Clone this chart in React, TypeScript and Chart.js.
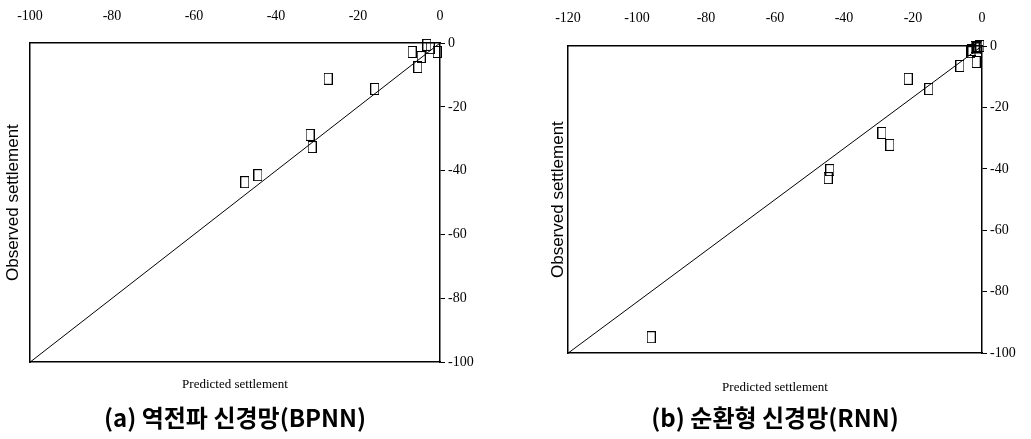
import React, { useEffect, useRef } from "react";
import { Chart, registerables } from "chart.js";

Chart.register(...registerables);
Chart.defaults.color = "#000";

// ---- data ----
const predictedA = [-3.2, -6.8, -4.6, -5.4, -2.4, -0.7, -27.3, -15.9, -31.7, -31.2, -47.6, -44.4];
const observedA = [-0.6, -2.8, -4.4, -7.5, -1.6, -2.8, -11.2, -14.4, -28.8, -32.6, -43.6, -41.4];

const predictedB = [-2.0, -1.2, -2.9, -3.2, -0.6, -1.5, -1.7, -6.4, -21.4, -15.4, -29.0, -26.7, -44.1, -44.6, -95.9];
const observedB = [-0.3, -0.3, -1.3, -2.0, 0.0, -0.8, -5.2, -6.5, -10.7, -14.0, -28.3, -32.2, -40.4, -43.0, -94.8];

const xRangeA = [-100, 0];
const xRangeB = [-120, 0];
const yRange = [-100, 0];
const tickStep = 20;

const captionA = "(a) 역전파 신경망(BPNN)";
const captionB = "(b) 순환형 신경망(RNN)";
const xTitle = "Predicted settlement";
const yTitle = "Observed settlement";

function makeMarker(): HTMLCanvasElement {
  const c = document.createElement("canvas");
  c.width = 9;
  c.height = 12;
  const ctx = c.getContext("2d")!;
  ctx.strokeStyle = "#000";
  ctx.lineWidth = 1;
  ctx.strokeRect(0.5, 0.5, 8, 11);
  return c;
}

type Layout = {
  width: number;
  leftW: number;
  rightW: number;
  topH: number;
  bottomH: number;
  xTitlePadBottom: number;
  yTitlePadTop: number;
  topTickPad: number;
  capPadTop: number;
  capPadBottom: number;
};

function Panel(props: {
  left: number;
  xs: number[];
  ys: number[];
  xRange: number[];
  caption: string;
  layout: Layout;
}) {
  const ref = useRef<HTMLCanvasElement | null>(null);
  useEffect(() => {
    const { xs, ys, xRange, caption, layout } = props;
    const marker = makeMarker();
    const points = xs.map((x, i) => ({ x, y: ys[i] }));
    const diag = [
      { x: xRange[0], y: yRange[0] },
      { x: xRange[1], y: yRange[1] },
    ];
    const tickFont = { family: "'Liberation Serif', serif", size: 14 };
    const border = { display: true, color: "#000", width: 1.5 };
    const chart = new Chart(ref.current!, {
      type: "scatter",
      data: {
        datasets: [
          {
            type: "line",
            data: diag,
            borderColor: "#000",
            borderWidth: 1,
            pointRadius: 0,
            showLine: true,
            clip: false,
            order: 2,
          } as any,
          {
            type: "scatter",
            data: points,
            pointStyle: marker as any,
            pointRadius: 5,
            clip: false,
            order: 1,
          } as any,
        ],
      },
      options: {
        responsive: false,
        animation: false,
        layout: { padding: 0 },
        plugins: {
          legend: { display: false },
          tooltip: { enabled: false },
          title: {
            display: true,
            position: "bottom",
            fullSize: false,
            text: caption,
            color: "#000",
            font: { family: "'Noto Sans CJK KR', sans-serif", size: 24, weight: "bold" },
            padding: { top: layout.capPadTop, bottom: layout.capPadBottom },
          },
        },
        scales: {
          x: {
            type: "linear",
            position: "top",
            min: xRange[0],
            max: xRange[1],
            ticks: { stepSize: tickStep, font: tickFont, color: "#000", padding: layout.topTickPad, maxRotation: 0 },
            grid: { display: false },
            border,
            afterFit: (s: any) => {
              s.height = layout.topH;
            },
          },
          y: {
            type: "linear",
            position: "right",
            min: yRange[0],
            max: yRange[1],
            ticks: { stepSize: tickStep, font: tickFont, color: "#000", padding: 3 },
            grid: { display: true, drawOnChartArea: false, drawTicks: true, tickLength: 5, color: "#000" },
            border,
            afterFit: (s: any) => {
              s.width = layout.rightW;
            },
          },
          x2: {
            type: "linear",
            position: "bottom",
            min: xRange[0],
            max: xRange[1],
            ticks: { display: false },
            grid: { display: false },
            border,
            title: {
              display: true,
              text: xTitle,
              color: "#000",
              font: { family: "'Liberation Serif', serif", size: 13 },
              padding: { top: 0, bottom: layout.xTitlePadBottom },
            },
            afterFit: (s: any) => {
              s.height = layout.bottomH;
            },
          },
          y2: {
            type: "linear",
            position: "left",
            min: yRange[0],
            max: yRange[1],
            ticks: { display: false },
            grid: { display: false },
            border,
            title: {
              display: true,
              text: yTitle,
              color: "#000",
              font: { family: "'Liberation Sans', sans-serif", size: 17 },
              padding: { top: layout.yTitlePadTop, bottom: 0 },
            },
            afterFit: (s: any) => {
              s.width = layout.leftW;
            },
          },
        },
      } as any,
    });
    return () => chart.destroy();
  }, []);
  return (
    <canvas
      ref={ref}
      width={props.layout.width}
      height={439}
      style={{ position: "absolute", left: props.left, top: 0, width: props.layout.width, height: 439 }}
    />
  );
}

const layoutA: Layout = {
  width: 515,
  leftW: 30,
  rightW: 75,
  topH: 43,
  bottomH: 40,
  xTitlePadBottom: 10,
  yTitlePadTop: 3,
  topTickPad: 10,
  capPadTop: 1,
  capPadBottom: 7,
};

const layoutB: Layout = {
  width: 516,
  leftW: 53,
  rightW: 49,
  topH: 46,
  bottomH: 50,
  xTitlePadBottom: 8,
  yTitlePadTop: 33,
  topTickPad: 11,
  capPadTop: 0,
  capPadBottom: 7,
};

export default function App() {
  return (
    <div style={{ position: "fixed", left: 0, top: 0, width: 1031, height: 439, background: "#fff" }}>
      <Panel left={0} xs={predictedA} ys={observedA} xRange={xRangeA} caption={captionA} layout={layoutA} />
      <Panel left={515} xs={predictedB} ys={observedB} xRange={xRangeB} caption={captionB} layout={layoutB} />
    </div>
  );
}
